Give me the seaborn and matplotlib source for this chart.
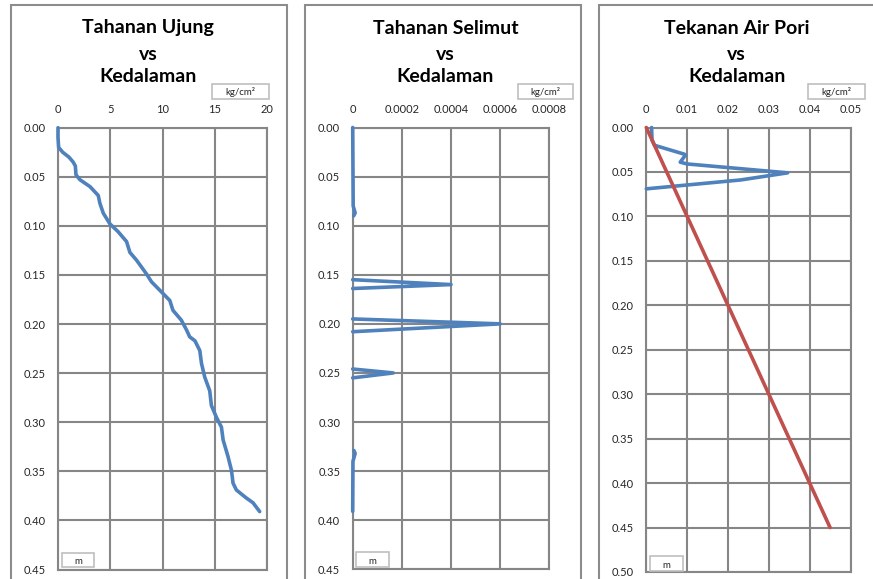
import matplotlib
matplotlib.use("Agg")
import matplotlib.pyplot as plt
from matplotlib.patches import Rectangle
import pandas as pd
import seaborn as sns

W, H = 873, 579

# ---- Tahanan Ujung (kg/cm²) terhadap kedalaman (m)
ujung_depth = [0.000, 0.010, 0.020, 0.025, 0.030, 0.035, 0.039, 0.045, 0.048, 0.053,
               0.060, 0.069, 0.077, 0.087, 0.098, 0.106, 0.116, 0.127, 0.135, 0.149,
               0.157, 0.169, 0.176, 0.186, 0.196, 0.206, 0.213, 0.217, 0.227, 0.240,
               0.254, 0.268, 0.283, 0.295, 0.305, 0.318, 0.335, 0.349, 0.362, 0.369,
               0.377, 0.382, 0.391]
ujung_value = [0.00, 0.00, 0.06, 0.45, 1.05, 1.45, 1.66, 1.70, 1.72, 2.10,
               3.06, 3.85, 4.01, 4.33, 4.97, 5.76, 6.56, 6.88, 7.52, 8.47,
               8.95, 10.06, 10.70, 11.00, 11.80, 12.30, 12.60, 13.10, 13.57, 13.73,
               14.04, 14.52, 14.68, 15.16, 15.64, 15.80, 16.27, 16.60, 16.75, 17.07,
               18.00, 18.66, 19.30]

# ---- Tahanan Selimut (kg/cm²): segmen terukur, kosong di antaranya
selimut_depth = [0.000, 0.080, 0.087, 0.090,
                 0.155, 0.160, 0.164,
                 0.195, 0.200, 0.208,
                 0.246, 0.250, 0.255,
                 0.329, 0.332, 0.340, 0.391]
selimut_value = [0.0, 0.000002, 0.00001, 0.000004,
                 0.0, 0.0004, 0.0,
                 0.0, 0.0006, 0.0,
                 0.0, 0.000165, 0.0,
                 0.000005, 0.00001, 0.000001, 0.0]
selimut_seg = [1, 1, 1, 1, 2, 2, 2, 3, 3, 3, 4, 4, 4, 5, 5, 5, 5]

# ---- Tekanan Air Pori (kg/cm²) dan garis hidrostatis
pori_depth = [0.000, 0.014, 0.020, 0.030, 0.031, 0.039, 0.041, 0.051, 0.059, 0.069]
pori_value = [0.0013, 0.0014, 0.0020, 0.0093, 0.0096, 0.0083, 0.0100, 0.0346, 0.0231, 0.0]
hidro_depth = [0.00, 0.45]
hidro_value = [0.000, 0.045]

titles = [["Tahanan Ujung", "vs", "Kedalaman"],
          ["Tahanan Selimut", "vs", "Kedalaman"],
          ["Tekanan Air Pori", "vs", "Kedalaman"]]
x_ticks = [[0, 5, 10, 15, 20],
           [0, 0.0002, 0.0004, 0.0006, 0.0008],
           [0, 0.01, 0.02, 0.03, 0.04, 0.05]]
x_labels = [["0", "5", "10", "15", "20"],
            ["0", "0.0002", "0.0004", "0.0006", "0.0008"],
            ["0", "0.01", "0.02", "0.03", "0.04", "0.05"]]
y_ticks = [[i * 0.05 for i in range(10)],
           [i * 0.05 for i in range(10)],
           [i * 0.05 for i in range(11)]]
unit_x = "kg/cm²"
unit_y = "m"

BLUE = "#4F81BD"
RED = "#C0504D"
GRID = "#868686"
FRAME = "#8C8C8C"
BOX = "#BFBFBF"
TEXT = "#262626"

sns.set_theme(style="white")
plt.rcParams["font.family"] = ["Lato", "DejaVu Sans"]

fig = plt.figure(figsize=(W / 100, H / 100), dpi=100)


def frac(x0, y0, x1, y1):
    return [x0 / W, 1 - y1 / H, (x1 - x0) / W, (y1 - y0) / H]


def fig_rect(x0, y0, x1, y1, color, lw):
    l, b, w, h = frac(x0, y0, x1, y1)
    fig.add_artist(Rectangle((l, b), w, h, transform=fig.transFigure,
                             fill=False, edgecolor=color, linewidth=lw))


# outer chart frames
frames = [(11, 5, 287, 590), (305, 5, 581, 590), (599, 5, 890, 590)]
for f in frames:
    fig_rect(*f, FRAME, 1.5)

axes_px = [(58, 127.7, 267, 569.5), (352.7, 127.5, 549.3, 569.3), (646.3, 127.5, 850.5, 572.0)]
title_cx = [148, 445.5, 736.7]
xbox = [(212, 84, 269, 99), (518, 84, 573, 99), (808, 84, 865, 99)]
ybox = [(62, 553, 94, 567), (356, 552, 389, 567), (650, 556, 683, 571)]

line_kw = dict(estimator=None, sort=False, orient="y", linewidth=2.6,
               clip_on=False, zorder=4, solid_capstyle="round", solid_joinstyle="round")

df_u = pd.DataFrame({"depth": ujung_depth, "value": ujung_value})
df_s = pd.DataFrame({"depth": selimut_depth, "value": selimut_value, "seg": selimut_seg})
df_p = pd.DataFrame({"depth": pori_depth, "value": pori_value})
df_h = pd.DataFrame({"depth": hidro_depth, "value": hidro_value})

axes = []
for i in range(3):
    ax = fig.add_axes(frac(*axes_px[i]))
    axes.append(ax)

sns.lineplot(data=df_u, x="value", y="depth", color=BLUE, ax=axes[0], **line_kw)
sns.lineplot(data=df_s, x="value", y="depth", units="seg", color=BLUE, ax=axes[1], **line_kw)
sns.lineplot(data=df_p, x="value", y="depth", color=BLUE, ax=axes[2], **line_kw)
sns.lineplot(data=df_h, x="value", y="depth", color=RED, ax=axes[2], **line_kw)

for i, ax in enumerate(axes):
    ax.set_xlim(x_ticks[i][0], x_ticks[i][-1])
    ax.set_ylim(y_ticks[i][-1], y_ticks[i][0])
    ax.set_xticks(x_ticks[i])
    ax.set_xticklabels(x_labels[i])
    ax.set_yticks(y_ticks[i])
    ax.set_yticklabels([f"{v:.2f}" for v in y_ticks[i]])
    ax.set_xlabel("")
    ax.set_ylabel("")
    ax.xaxis.set_ticks_position("top")
    ax.tick_params(axis="x", top=True, labeltop=True, bottom=False, labelbottom=False,
                   length=0, pad=9, labelsize=8, labelcolor=TEXT)
    ax.tick_params(axis="y", length=0, pad=9, labelsize=8, labelcolor=TEXT)
    ax.grid(True, color=GRID, linewidth=1.5)
    ax.set_axisbelow(True)
    for s in ax.spines.values():
        s.set_color(GRID)
        s.set_linewidth(1.5)
    ax.set_facecolor("white")

    for k, (txt, cy) in enumerate(zip(titles[i], [28, 54, 77])):
        fig.text(title_cx[i] / W, 1 - cy / H, txt, ha="center", va="center",
                 fontsize=14, fontweight="bold", color="black")

    x0, y0, x1, y1 = xbox[i]
    fig_rect(x0, y0, x1, y1, BOX, 1.2)
    fig.text((x0 + x1) / 2 / W, 1 - (y0 + y1 + 1) / 2 / H, unit_x, ha="center", va="center",
             fontsize=7, color=TEXT)
    x0, y0, x1, y1 = ybox[i]
    fig_rect(x0, y0, x1, y1, BOX, 1.2)
    fig.text((x0 + x1) / 2 / W, 1 - (y1 - 0.5) / H, unit_y, ha="center", va="bottom",
             fontsize=7, color=TEXT)

fig.savefig("out.png", dpi=100, facecolor="white")
